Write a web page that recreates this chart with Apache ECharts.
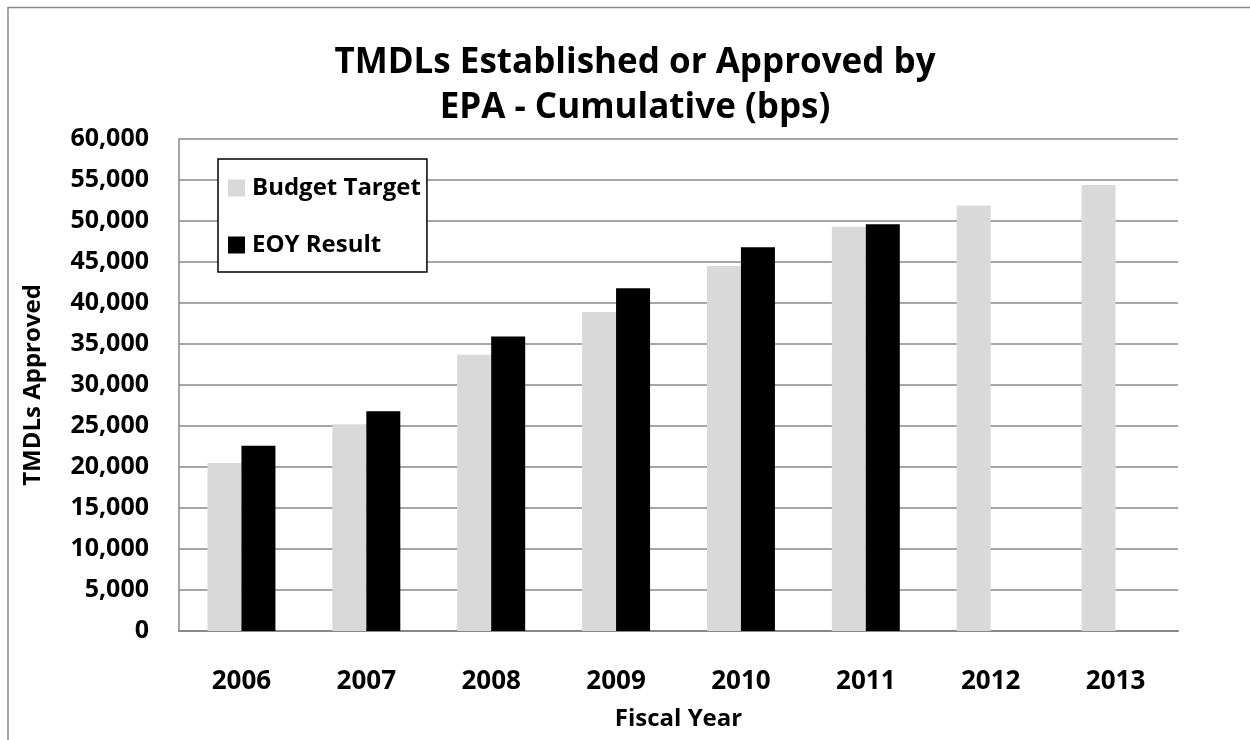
<!DOCTYPE html>
<html lang="en">
<head>
    <meta charset="UTF-8">
    <title>TMDLs Established or Approved by EPA</title>
    <script src="https://cdnjs.cloudflare.com/ajax/libs/echarts/6.0.0/echarts.min.js"></script>
    <style>
        html, body { margin: 0; padding: 0; background: #fff; }
    </style>
</head>
<body>
    <div id="main" style="width: 1250px; height: 740px;"></div>
    <script>
        // values
        var years = ['2006', '2007', '2008', '2009', '2010', '2011', '2012', '2013'];
        var budgetTarget = [20500, 25200, 33700, 38900, 44500, 49300, 51900, 54400];
        var eoyResult = [22600, 26800, 35900, 41800, 46800, 49600, null, null];

        var font = '"Open Sans", sans-serif';
        var myChart = echarts.init(document.getElementById('main'));
        var option = {
            backgroundColor: '#fff',
            animation: false,
            title: {
                text: 'TMDLs Established or Approved by\nEPA - Cumulative (bps)',
                left: 630,
                top: 36,
                textAlign: 'center',
                textStyle: {
                    fontFamily: font,
                    fontWeight: 'bold',
                    fontSize: 35,
                    lineHeight: 45,
                    color: '#000'
                }
            },
            graphic: [{
                type: 'polyline',
                shape: { points: [[8, 745], [8, 7.5], [1255, 7.5]] },
                style: { stroke: '#888', lineWidth: 1.5, fill: null }
            }],
            legend: {
                orient: 'vertical',
                left: 218,
                top: 159,
                padding: [17, 6, 15, 10],
                itemGap: 33,
                itemWidth: 17,
                itemHeight: 17,
                icon: 'rect',
                backgroundColor: '#fff',
                borderColor: '#000',
                borderWidth: 1.5,
                borderRadius: 0,
                data: ['Budget Target', 'EOY Result'],
                textStyle: {
                    fontFamily: font,
                    fontWeight: 'bold',
                    fontSize: 24,
                    color: '#000',
                    padding: [0, 0, 0, 2]
                }
            },
            grid: {
                left: 179,
                right: 72,
                top: 139,
                bottom: 109
            },
            xAxis: {
                type: 'category',
                data: years,
                name: 'Fiscal Year',
                nameLocation: 'middle',
                nameGap: 76,
                nameTextStyle: {
                    fontFamily: font,
                    fontWeight: 'bold',
                    fontSize: 24,
                    color: '#000'
                },
                axisLine: { lineStyle: { color: '#888', width: 2 } },
                axisTick: { show: false },
                axisLabel: {
                    margin: 38,
                    fontFamily: font,
                    fontWeight: 'bold',
                    fontSize: 26,
                    color: '#000'
                }
            },
            yAxis: {
                type: 'value',
                min: 0,
                max: 60000,
                interval: 5000,
                name: 'TMDLs Approved',
                nameLocation: 'middle',
                nameGap: 134,
                nameTextStyle: {
                    fontFamily: font,
                    fontWeight: 'bold',
                    fontSize: 24,
                    color: '#000'
                },
                axisLine: { show: true, lineStyle: { color: '#888', width: 1.5 } },
                axisTick: { show: false },
                splitLine: { lineStyle: { color: '#888', width: 1.5 } },
                axisLabel: {
                    margin: 30,
                    fontFamily: font,
                    fontWeight: 'bold',
                    fontSize: 25,
                    color: '#000',
                    formatter: function (v) {
                        return v.toLocaleString('en-US');
                    }
                }
            },
            series: [
                {
                    name: 'Budget Target',
                    type: 'bar',
                    data: budgetTarget,
                    barWidth: 34,
                    barGap: '0%',
                    itemStyle: { color: '#d9d9d9' }
                },
                {
                    name: 'EOY Result',
                    type: 'bar',
                    data: eoyResult,
                    barWidth: 34,
                    barGap: '0%',
                    itemStyle: { color: '#000' }
                }
            ]
        };
        myChart.setOption(option);
    </script>
</body>
</html>
